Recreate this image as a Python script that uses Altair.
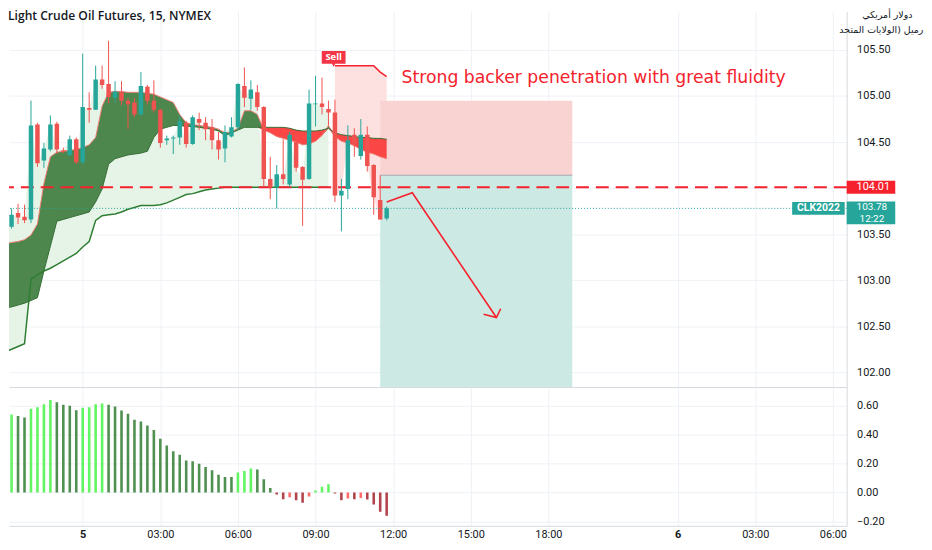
import altair as alt
import pandas as pd
import numpy as np

# ---------------- data ----------------
bar_index = list(range(60))
opens = [103.53, 103.58, 103.73, 103.69, 103.66, 104.69, 104.30, 104.42, 104.70, 104.41,
         104.36, 104.53, 104.28, 104.87, 104.85, 105.18, 105.13, 104.98, 105.04, 104.95,
         104.93, 104.80, 105.10, 104.95, 104.85, 104.52, 104.54, 104.55, 104.71, 104.48,
         104.75, 104.71, 104.66, 104.52, 104.43, 104.56, 104.66, 105.11, 104.97, 105.04,
         104.88, 104.10, 104.01, 104.15, 104.04, 104.50, 104.23, 104.10, 104.91, 104.92,
         104.86, 104.82, 103.92, 103.99, 104.58, 104.35, 104.58, 104.25, 103.87, 103.67]
highs = [103.66, 103.78, 103.83, 103.82, 104.95, 104.71, 104.49, 104.79, 104.72, 104.44,
         104.57, 104.55, 105.46, 105.04, 105.33, 105.33, 105.60, 105.16, 105.16, 104.98,
         104.98, 105.26, 105.12, 105.17, 104.86, 104.57, 104.57, 104.79, 104.73, 104.79,
         104.82, 104.77, 104.75, 104.61, 104.68, 104.77, 105.14, 105.31, 105.17, 105.12,
         104.89, 104.34, 104.25, 104.53, 104.61, 104.57, 104.24, 105.07, 105.22, 105.20,
         104.95, 104.96, 104.10, 104.68, 104.65, 104.75, 104.67, 104.26, 104.14, 103.80]
lows = [103.51, 103.56, 103.61, 103.62, 103.62, 104.23, 104.22, 104.40, 104.37, 104.38,
        104.35, 104.26, 104.26, 104.71, 104.85, 105.08, 104.92, 104.93, 104.90, 104.64,
        104.77, 104.79, 104.91, 104.82, 104.44, 104.47, 104.37, 104.47, 104.44, 104.47,
        104.63, 104.52, 104.42, 104.31, 104.28, 104.55, 104.63, 104.88, 104.85, 104.84,
        104.02, 103.88, 103.78, 104.04, 104.01, 104.18, 103.59, 104.09, 104.67, 104.80,
        104.68, 103.85, 103.53, 103.88, 104.34, 104.31, 104.18, 103.71, 103.66, 103.65]
closes = [103.62, 103.71, 103.68, 103.65, 104.68, 104.27, 104.43, 104.69, 104.42, 104.40,
          104.53, 104.28, 104.88, 104.85, 105.18, 105.12, 104.99, 105.05, 104.95, 104.91,
          104.80, 105.11, 104.95, 104.85, 104.49, 104.54, 104.55, 104.73, 104.48, 104.77,
          104.71, 104.64, 104.52, 104.42, 104.61, 104.66, 105.13, 104.98, 105.07, 104.88,
          104.10, 104.01, 104.15, 104.10, 104.58, 104.22, 104.09, 104.92, 104.92, 104.88,
          104.82, 103.92, 103.97, 104.52, 104.47, 104.58, 104.24, 103.90, 103.66, 103.78]

cloud_fast = [103.39, 103.41, 103.42, 103.44, 103.49, 103.61, 104.05, 104.34, 104.39, 104.40,
              104.41, 104.42, 104.44, 104.47, 104.55, 104.89, 105.04, 105.05, 105.05, 105.04,
              105.04, 105.04, 105.03, 105.02, 104.99, 104.96, 104.93, 104.80, 104.71, 104.69,
              104.68, 104.67, 104.66, 104.64, 104.60, 104.61, 104.65, 104.84, 104.84, 104.80,
              104.63, 104.60, 104.56, 104.54, 104.52, 104.50, 104.47, 104.48, 104.51, 104.57,
              104.68, 104.56, 104.51, 104.49, 104.46, 104.42, 104.39, 104.37, 104.34, 104.32]
cloud_slow = [102.70, 102.71, 102.73, 102.75, 102.78, 102.81, 103.10, 103.37, 103.64, 103.66,
              103.68, 103.70, 103.72, 103.74, 103.85, 103.99, 104.26, 104.32, 104.34, 104.36,
              104.37, 104.38, 104.40, 104.55, 104.64, 104.66, 104.68, 104.68, 104.67, 104.67,
              104.66, 104.65, 104.64, 104.62, 104.57, 104.60, 104.63, 104.66, 104.66, 104.66,
              104.66, 104.66, 104.66, 104.66, 104.65, 104.63, 104.62, 104.62, 104.62, 104.63,
              104.65, 104.60, 104.58, 104.57, 104.56, 104.55, 104.55, 104.54, 104.54, 104.53]
trail_stop = [102.22, 102.25, 102.28, 102.31, 103.01, 103.06, 103.10, 103.13, 103.17, 103.21,
              103.25, 103.29, 103.36, 103.42, 103.65, 103.70, 103.71, 103.72, 103.74, 103.77,
              103.79, 103.81, 103.81, 103.81, 103.82, 103.84, 103.87, 103.90, 103.93, 103.94,
              103.96, 103.98, 103.99, 104.00, 104.01, 104.01, 104.01, 104.01, 104.01, 104.01,
              104.01, 104.01, 104.01, 104.01, 104.01, 104.01, 104.01, 104.01, 104.01, 104.01,
              104.01, 105.33, 105.33, 105.33, 105.33, 105.33, 105.33, 105.33, 105.26, 105.21]
trail_side = ["long"] * 51 + ["short"] * 9

hist_vals = [0.53, 0.54, 0.53, 0.52, 0.58, 0.59, 0.61, 0.64, 0.625, 0.607,
             0.60, 0.57, 0.586, 0.59, 0.61, 0.616, 0.607, 0.595, 0.568, 0.545,
             0.503, 0.492, 0.464, 0.432, 0.372, 0.326, 0.285, 0.262, 0.221, 0.216,
             0.20, 0.177, 0.154, 0.124, 0.108, 0.108, 0.138, 0.149, 0.166, 0.159,
             0.092, 0.032, -0.014, -0.046, -0.032, -0.053, -0.071, -0.028, 0.014, 0.041,
             0.057, -0.007, -0.053, -0.041, -0.046, -0.037, -0.048, -0.083, -0.133, -0.161]
hist_cat = ["G", "G", "g", "g", "G", "G", "G", "G", "g", "g",
            "g", "g", "G", "G", "G", "G", "g", "g", "g", "g",
            "g", "g", "g", "g", "g", "g", "g", "g", "g", "g",
            "g", "g", "g", "g", "g", "g", "G", "G", "G", "g",
            "g", "g", "r", "r", "R", "r", "r", "R", "G", "G",
            "G", "r", "r", "R", "r", "R", "r", "r", "r", "r"]

tick_idx = [12, 24, 36, 48, 60, 72, 84, 104, 116, 128]
tick_labels = ["5", "03:00", "06:00", "09:00", "12:00", "15:00", "18:00", "6", "03:00", "06:00"]
day_ticks = [12, 104]
price_ticks = [105.5, 105.0, 104.5, 104.0, 103.5, 103.0, 102.5, 102.0]
osc_ticks = [0.6, 0.4, 0.2, 0.0, -0.2]

level_price = 104.01
last_price = 103.78
countdown = "12:22"
symbol = "CLK2022"

pos_start, pos_end = 58.0, 87.7
pos_entry, pos_stop, pos_target = 104.14, 104.95, 101.80

arrow_idx = [59.0, 62.96, 75.97]
arrow_price = [103.85, 103.95, 102.595]
head_idx = [73.99, 75.97, 76.63]
head_price = [102.63, 102.595, 102.69]

note_text = "Strong backer penetration with great fluidity"
note_idx, note_price = 61.3, 105.19
sell_idx, sell_price = 50.8, 105.42
title_text = "Light Crude Oil Futures, 15, NYMEX"
unit_lines = ["دولار أمريكي", "رميل (الولايات المتحد"]

# ---------------- colours ----------------
RED = "#f5222d"
TEAL = "#26a69a"
CANDLE_UP, CANDLE_DOWN = TEAL, "#ef5350"
HIST_COLORS = {"G": "#62f562", "g": "#4f8f50", "R": "#ff6b6b", "r": "#b2444d"}

# ---------------- tables ----------------
df = pd.DataFrame({
    "i": bar_index, "o": opens, "h": highs, "l": lows, "c": closes,
    "fx": cloud_fast, "sy": cloud_slow, "ts": trail_stop, "side": trail_side,
    "hv": hist_vals, "hc": hist_cat,
})
df["ccol"] = np.where(df["c"] >= df["o"], CANDLE_UP, CANDLE_DOWN)
df["hcol"] = df["hc"].map(HIST_COLORS)
df["cmin"] = np.minimum(df["fx"], df["sy"])
long_df = df[df["side"] == "long"]
short_df = df[df["side"] == "short"]

pos_df = pd.DataFrame({
    "x0": [pos_start, pos_start], "x1": [pos_end, pos_end],
    "y0": [pos_entry, pos_entry], "y1": [pos_stop, pos_target], "k": ["risk", "reward"],
})
arrow_df = pd.DataFrame({
    "i": arrow_idx + head_idx, "p": arrow_price + head_price,
    "seg": ["a"] * len(arrow_idx) + ["h"] * len(head_idx),
    "ord": list(range(len(arrow_idx))) + list(range(len(head_idx))),
})

# ---------------- scales / axes ----------------
W = 845
H_TOP = 379
H_BOT = 140
X_DOMAIN = [0.6, 130.13]
xs = alt.Scale(domain=X_DOMAIN, nice=False, zero=False, padding=0)
ys = alt.Scale(domain=[101.84, 105.92], nice=False, zero=False, padding=0)
os_ = alt.Scale(domain=[-0.230, 0.730], nice=False, zero=False, padding=0)

ax_top_x = alt.Axis(values=tick_idx, labels=False, ticks=False, domain=True, grid=True, title=None)
ax_top_y = alt.Axis(orient="right", values=price_ticks, format=".2f", ticks=False, tickSize=0,
                    labelPadding=10, grid=True, domain=True, title=None, labelOverlap=False)

label_expr = " : ".join(f"datum.value == {v} ? '{t}'" for v, t in zip(tick_idx, tick_labels)) + " : ''"
bold_test = " || ".join(f"datum.value == {v}" for v in day_ticks)
ax_bot_x = alt.Axis(values=tick_idx, labelExpr=label_expr, ticks=False, tickSize=0, labelPadding=3,
                    grid=True, domain=True, title=None, labelFlush=False, labelOverlap=False,
                    labelFontWeight=alt.condition(bold_test, alt.value("bold"), alt.value("normal")))
ax_bot_y = alt.Axis(orient="right", values=osc_ticks, format=".2f", ticks=False, tickSize=0,
                    labelPadding=10, grid=True, domain=True, title=None, labelOverlap=False)


def X(f):
    return alt.X(f, type="quantitative", scale=xs, axis=ax_top_x)


def Y(f):
    return alt.Y(f, type="quantitative", scale=ys, axis=ax_top_y)


def XD(v):
    return alt.X(datum=v, scale=xs, axis=ax_top_x)


def YD(v):
    return alt.Y(datum=v, scale=ys, axis=ax_top_y)


base = alt.Chart(df)
one = df.head(1)

fill_long = alt.Chart(long_df).mark_area(color="#e6f4e7", clip=True).encode(x=X("i"), y=Y("ts"), y2="c")
fill_short = alt.Chart(short_df).mark_area(color="#fde1e0", clip=True).encode(x=X("i"), y=Y("ts"), y2="c")

risk_box = alt.Chart(pos_df[pos_df.k == "risk"]).mark_rect(color="#f9d3d1").encode(
    x=X("x0"), x2="x1", y=Y("y0"), y2="y1")
reward_box = alt.Chart(pos_df[pos_df.k == "reward"]).mark_rect(color="#cce9e4", clip=True).encode(
    x=X("x0"), x2="x1", y=Y("y0"), y2="y1")
entry_line = alt.Chart(pos_df[pos_df.k == "risk"]).mark_rule(color="#a3a6ad", strokeWidth=1).encode(
    x=X("x0"), x2="x1", y=Y("y0"))

cloud_green = base.mark_area(color="#4d874d", clip=True).encode(x=X("i"), y=Y("fx"), y2="cmin")
cloud_red = base.mark_area(color="#fb4646", clip=True).encode(x=X("i"), y=Y("sy"), y2="cmin")
fx_line = base.mark_line(color="#f07b74", strokeWidth=1, clip=True).encode(x=X("i"), y=Y("fx"))
sy_line = base.mark_line(color="#356e35", strokeWidth=1, clip=True).encode(x=X("i"), y=Y("sy"))

trail_long = alt.Chart(long_df).mark_line(color="#2e7d32", strokeWidth=1.5, clip=True).encode(
    x=X("i"), y=Y("ts"))
trail_short = alt.Chart(short_df).mark_line(color=RED, strokeWidth=1.5, clip=True).encode(
    x=X("i"), y=Y("ts"))

level_line = alt.Chart(one).mark_rule(color=RED, strokeDash=[13, 7], strokeWidth=2).encode(y=YD(level_price))
last_line = alt.Chart(one).mark_rule(color=TEAL, strokeDash=[1, 2], strokeWidth=1).encode(y=YD(last_price))

wicks = base.mark_rule(strokeWidth=1, clip=True).encode(
    x=X("i"), y=Y("l"), y2="h", color=alt.Color("ccol:N", scale=None))
bodies = base.mark_bar(width=4.5, clip=True).encode(
    x=X("i"), y=Y("o"), y2="c", color=alt.Color("ccol:N", scale=None))

arrow = alt.Chart(arrow_df).mark_line(color=RED, strokeWidth=1.6).encode(
    x=X("i"), y=Y("p"), detail="seg:N", order="ord:Q")

note = alt.Chart(one).mark_text(align="left", baseline="middle", font="DejaVu Sans", fontSize=17.4,
                                color=RED).encode(x=XD(note_idx), y=YD(note_price), text=alt.value(note_text))

sell_shape = "M-1,-0.54L1,-0.54L1,0.54L0.14,0.54L0,0.78L-0.14,0.54L-1,0.54Z"
sell_box = alt.Chart(one).mark_point(shape=sell_shape, size=576, filled=True, opacity=1,
                                     color="#f23645").encode(x=XD(sell_idx), y=YD(sell_price))
sell_txt = alt.Chart(one).mark_text(align="center", baseline="middle", font="Open Sans", fontWeight="bold",
                                    fontSize=9.5, color="white").encode(
    x=XD(sell_idx), y=YD(sell_price), text=alt.value("Sell"))

title = alt.Chart(one).mark_text(align="left", baseline="middle", font="Open Sans", fontWeight=600,
                                 fontSize=12.2, color="#131722").encode(
    x=alt.value(-1), y=alt.value(5), text=alt.value(title_text))

clk_box = alt.Chart(one).mark_rule(color=TEAL, strokeWidth=13).encode(
    x=alt.value(790), x2=alt.value(843), y=YD(last_price))
clk_txt = alt.Chart(one).mark_text(align="center", baseline="middle", font="Roboto", fontWeight="bold",
                                   fontSize=10.5, color="white").encode(
    x=alt.value(816.5), y=YD(last_price), text=alt.value(symbol))

lvl_box = alt.Chart(one).mark_rule(color=RED, strokeWidth=13).encode(
    x=alt.value(845), x2=alt.value(894), y=YD(level_price))
lvl_txt = alt.Chart(one).mark_text(align="left", baseline="middle", font="Roboto", fontSize=11,
                                   color="white").encode(
    x=alt.value(855), y=YD(level_price), text=alt.value(f"{level_price:.2f}"))

last_box = alt.Chart(one).mark_rule(color=TEAL, strokeWidth=23, yOffset=4.5).encode(
    x=alt.value(845), x2=alt.value(894), y=YD(last_price))
last_txt = alt.Chart(one).mark_text(align="left", baseline="middle", font="Roboto", fontSize=10, dy=-1.5,
                                    color="white").encode(
    x=alt.value(855), y=YD(last_price), text=alt.value(f"{last_price:.2f}"))
cd_txt = alt.Chart(one).mark_text(align="left", baseline="middle", font="Roboto", fontSize=10, dy=10.5,
                                  color="white").encode(
    x=alt.value(858), y=YD(last_price), text=alt.value(countdown))

unit1 = alt.Chart(one).mark_text(align="center", baseline="middle", font="DejaVu Sans", fontSize=9.5,
                                 color="#131722").encode(x=alt.value(886), y=alt.value(4),
                                                         text=alt.value(unit_lines[0]))
unit2 = alt.Chart(one).mark_text(align="center", baseline="middle", font="DejaVu Sans", fontSize=9.5,
                                 color="#131722").encode(x=alt.value(880), y=alt.value(19),
                                                         text=alt.value(unit_lines[1]))

top = alt.layer(
    fill_long, fill_short, risk_box, reward_box, entry_line,
    cloud_green, cloud_red, fx_line, sy_line, trail_long, trail_short,
    level_line, wicks, bodies, last_line, arrow, note, sell_box, sell_txt, title,
    clk_box, clk_txt, lvl_box, lvl_txt, last_box, last_txt, cd_txt, unit1, unit2,
).properties(width=W, height=H_TOP)

hist = base.mark_bar(width=2.6, clip=True).encode(
    x=alt.X("i:Q", scale=xs, axis=ax_bot_x),
    y=alt.Y("hv:Q", scale=os_, axis=ax_bot_y),
    y2=alt.Y2(datum=0),
    color=alt.Color("hcol:N", scale=None),
).properties(width=W, height=H_BOT)

chart = alt.vconcat(top, hist, spacing=0).properties(padding=0).configure_view(
    stroke=None
).configure_axis(
    labelFont="Roboto", labelFontSize=11, labelColor="#131722",
    gridColor="#eef1f6", gridWidth=1, domainColor="#d6d9e0",
)

chart.save("out.html", embed_options={"renderer": "svg", "actions": False})
